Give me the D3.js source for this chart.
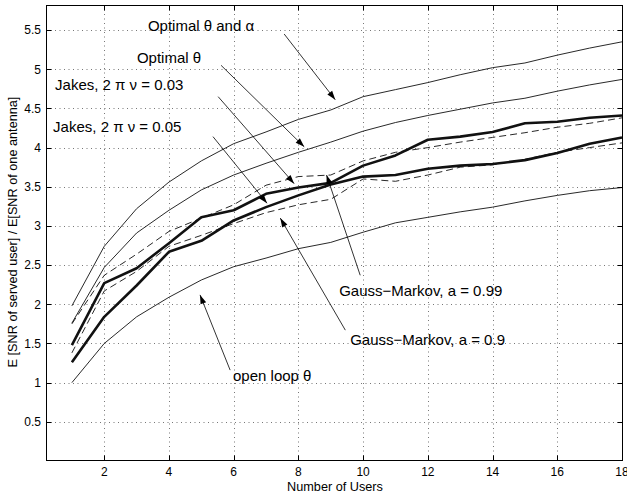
<!DOCTYPE html>
<html>
<head>
<meta charset="utf-8">
<script src="https://cdn.jsdelivr.net/npm/d3@7/dist/d3.min.js"></script>
<style>
  body { margin: 0; background: #fff; }
  svg { font-family: "Liberation Sans", Arial, Helvetica, sans-serif; }
</style>
</head>
<body>
<svg id="chart" width="627" height="498"></svg>
<script>
// number of users on the x axis
const users = d3.range(1, 19);

// average SNR gain per scheme, one value per user count
const optThetaAlpha = [1.98, 2.74, 3.22, 3.56, 3.83, 4.05, 4.20, 4.36, 4.48, 4.65, 4.74, 4.83, 4.93, 5.02, 5.08, 5.18, 5.27, 5.35];
const optTheta      = [1.76, 2.47, 2.91, 3.20, 3.46, 3.65, 3.80, 3.94, 4.07, 4.21, 4.32, 4.41, 4.49, 4.57, 4.63, 4.72, 4.80, 4.87];
const jakes003      = [1.48, 2.27, 2.46, 2.78, 3.11, 3.20, 3.41, 3.49, 3.55, 3.77, 3.90, 4.10, 4.14, 4.20, 4.31, 4.33, 4.38, 4.41];
const jakes005      = [1.26, 1.84, 2.24, 2.67, 2.81, 3.07, 3.24, 3.39, 3.53, 3.63, 3.65, 3.73, 3.77, 3.79, 3.84, 3.93, 4.05, 4.13];
const gm099         = [1.75, 2.37, 2.64, 2.93, 3.10, 3.27, 3.52, 3.63, 3.65, 3.83, 3.94, 4.00, 4.07, 4.13, 4.19, 4.26, 4.31, 4.38];
const gm09          = [1.38, 2.17, 2.42, 2.74, 2.88, 3.03, 3.17, 3.27, 3.34, 3.60, 3.57, 3.65, 3.75, 3.78, 3.85, 3.94, 4.00, 4.06];
const openLoop      = [1.00, 1.50, 1.84, 2.09, 2.31, 2.48, 2.59, 2.71, 2.79, 2.92, 3.04, 3.11, 3.18, 3.24, 3.32, 3.39, 3.45, 3.49];

const xTicks = [2, 4, 6, 8, 10, 12, 14, 16, 18];
const yTicks = [0.5, 1, 1.5, 2, 2.5, 3, 3.5, 4, 4.5, 5, 5.5];

// labels: text anchor point and arrow (from -> tip), all in data units
const labelText = ["Optimal θ and α", "Optimal θ", "Jakes, 2 π ν = 0.03", "Jakes, 2 π ν = 0.05",
                   "Gauss\u2212Markov, a = 0.99", "Gauss\u2212Markov, a = 0.9", "open loop θ"];
const labelPos  = [[3.35, 5.49], [3.01, 5.08], [0.48, 4.73], [0.42, 4.20], [9.26, 2.10], [9.60, 1.48], [5.98, 1.02]];
const arrowFrom = [[7.56, 5.45], [5.61, 5.05], [5.52, 4.65], [5.36, 4.14], [9.91, 2.37], [9.45, 1.67], [5.89, 1.16]];
const arrowTip  = [[9.14, 4.61], [8.18, 4.01], [7.87, 3.54], [7.03, 3.29], [8.87, 3.65], [7.44, 3.10], [4.96, 2.12]];

const series = [
  { values: openLoop,      width: 0.9, dash: null },
  { values: gm09,          width: 0.9, dash: "7,4" },
  { values: gm099,         width: 0.9, dash: "7,4" },
  { values: optTheta,      width: 0.9, dash: null },
  { values: optThetaAlpha, width: 0.9, dash: null },
  { values: jakes005,      width: 2.6, dash: null },
  { values: jakes003,      width: 2.6, dash: null },
];

const svg = d3.select("#chart");
const plotLeft = 46, plotRight = 622, plotTop = 5, plotBottom = 460;

const x = d3.scaleLinear().domain([0.2, 18]).range([plotLeft, plotRight]);
const y = d3.scaleLinear().domain([0, 5.82]).range([461, plotTop]);

// dotted grid
const grid = svg.append("g")
  .attr("stroke", "#777")
  .attr("stroke-width", 1)
  .attr("stroke-dasharray", "1,3.5");
grid.selectAll(".gx").data(xTicks.slice(0, -1)).join("line")
  .attr("x1", d => Math.round(x(d)) + 0.5).attr("x2", d => Math.round(x(d)) + 0.5)
  .attr("y1", plotTop).attr("y2", plotBottom);
grid.selectAll(".gy").data(yTicks).join("line")
  .attr("x1", plotLeft).attr("x2", plotRight)
  .attr("y1", d => Math.round(y(d)) + 0.5).attr("y2", d => Math.round(y(d)) + 0.5);

// curves
const line = d3.line().x((d, i) => x(users[i])).y(d => y(d));
svg.append("g").selectAll("path").data(series).join("path")
  .attr("d", d => line(d.values))
  .attr("fill", "none")
  .attr("stroke", "#111")
  .attr("stroke-width", d => d.width)
  .attr("stroke-dasharray", d => d.dash)
  .attr("stroke-linejoin", "round");

// arrow heads
svg.append("defs").append("marker")
  .attr("id", "head")
  .attr("markerUnits", "userSpaceOnUse")
  .attr("viewBox", "-10 -4 10 8")
  .attr("refX", 0).attr("refY", 0)
  .attr("markerWidth", 10).attr("markerHeight", 8)
  .attr("orient", "auto")
  .append("path")
  .attr("d", "M0,0L-9,-3L-9,3Z")
  .attr("fill", "#000");

svg.append("g").selectAll("line").data(arrowFrom).join("line")
  .attr("x1", d => x(d[0])).attr("y1", d => y(d[1]))
  .attr("x2", (d, i) => x(arrowTip[i][0])).attr("y2", (d, i) => y(arrowTip[i][1]))
  .attr("stroke", "#000")
  .attr("stroke-width", 0.8)
  .attr("marker-end", "url(#head)");

svg.append("g").selectAll("text").data(labelText).join("text")
  .attr("x", (d, i) => x(labelPos[i][0]))
  .attr("y", (d, i) => y(labelPos[i][1]))
  .attr("font-size", 15)
  .attr("fill", "#000")
  .text(d => d);

// frame
svg.append("rect")
  .attr("x", plotLeft + 0.5).attr("y", plotTop + 0.5)
  .attr("width", plotRight - plotLeft).attr("height", plotBottom - plotTop)
  .attr("fill", "none").attr("stroke", "#000").attr("stroke-width", 1);

// inward ticks on all four sides
const tk = 5;
const ticks = svg.append("g").attr("stroke", "#000").attr("stroke-width", 1);
xTicks.forEach(t => {
  const px = Math.round(x(t)) + 0.5;
  ticks.append("line").attr("x1", px).attr("x2", px).attr("y1", plotBottom + 0.5).attr("y2", plotBottom + 0.5 - tk);
  ticks.append("line").attr("x1", px).attr("x2", px).attr("y1", plotTop + 0.5).attr("y2", plotTop + 0.5 + tk);
});
yTicks.forEach(t => {
  const py = Math.round(y(t)) + 0.5;
  ticks.append("line").attr("x1", plotLeft + 0.5).attr("x2", plotLeft + 0.5 + tk).attr("y1", py).attr("y2", py);
  ticks.append("line").attr("x1", plotRight + 0.5).attr("x2", plotRight + 0.5 - tk).attr("y1", py).attr("y2", py);
});

// tick labels
svg.append("g").selectAll("text").data(xTicks).join("text")
  .attr("x", d => x(d)).attr("y", 476)
  .attr("text-anchor", "middle").attr("font-size", 12)
  .text(d => d);
svg.append("g").selectAll("text").data(yTicks).join("text")
  .attr("x", 41).attr("y", d => y(d) + 4.3)
  .attr("text-anchor", "end").attr("font-size", 12)
  .text(d => d);

// axis titles
svg.append("text")
  .attr("x", 335).attr("y", 491)
  .attr("text-anchor", "middle").attr("font-size", 12.7)
  .text("Number of Users");
svg.append("text")
  .attr("transform", "translate(17,232) rotate(-90)")
  .attr("text-anchor", "middle").attr("font-size", 12.7)
  .text("E [SNR of served user] / E[SNR of one antenna]");
</script>
</body>
</html>
